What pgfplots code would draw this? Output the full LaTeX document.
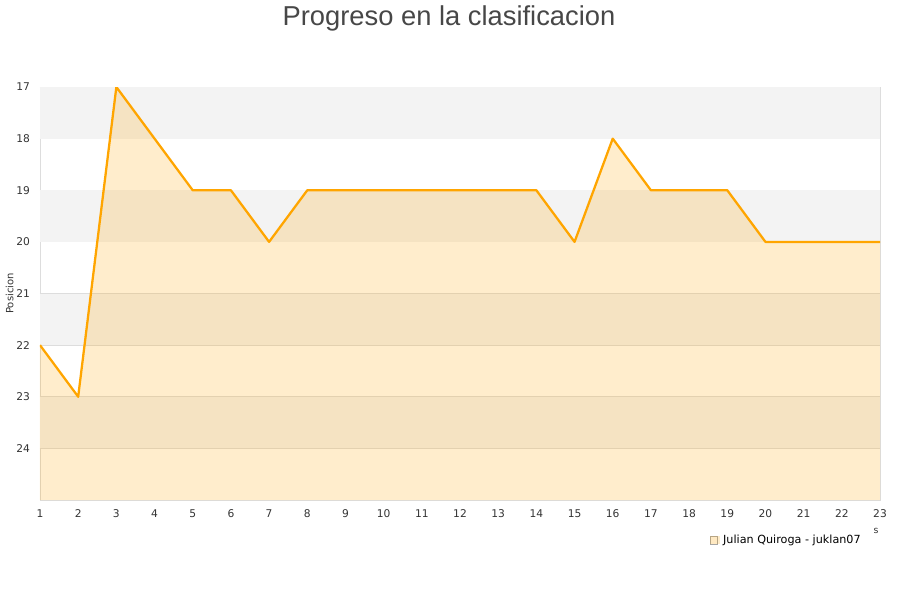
\documentclass[border=0pt]{standalone}
\usepackage{pgfplots}
\pgfplotsset{compat=1.18}
\usepackage{fontspec}
\setmainfont{DejaVu Sans}
\newfontfamily\titlefont{Liberation Sans}
\definecolor{lineor}{HTML}{FFA500}
\definecolor{band}{HTML}{F3F3F3}
\definecolor{gridc}{HTML}{DDDDDD}
\definecolor{txt}{HTML}{333333}
\begin{document}
\begin{tikzpicture}
\path[use as bounding box] (0pt,0pt) rectangle (675pt,450pt);
\node[anchor=center,text=txt!90,font=\titlefont\fontsize{20.5}{23}\selectfont] at (336.75pt,436.5pt) {Progreso en la clasificacion};
\begin{axis}[
    at={(30pt,75pt)}, anchor=south west,
    scale only axis,
    width=630pt, height=309.75pt,
    xmin=1, xmax=23,
    ymin=17, ymax=25,
    y dir=reverse,
    xtick={1,...,23},
    ytick={17,...,24},
    major tick length=0pt,
    axis line style={gridc},
    ymajorgrids,
    grid style={gridc, line width=0.6pt},
    tick label style={font=\fontsize{8}{9}\selectfont, text=txt},
    /pgf/number format/assume math mode=true,
    xticklabel style={yshift=-4pt},
    yticklabel style={xshift=-4pt},
    ylabel={Posicion},
    ylabel style={font=\fontsize{7.5}{9}\selectfont, text=txt, anchor=center, at={(axis description cs:-0.036,0.5)}},
    legend style={at={(axis description cs:0.792,-0.097)}, anchor=west, draw=none, fill=none,
        font=\fontsize{8.4}{9}\selectfont},
    legend image code/.code={\draw[gray!70,fill=lineor!25,line width=0.4pt] (0pt,-2.8pt) rectangle (5.6pt,2.8pt);
        \path[use as bounding box] (0pt,-2.8pt) rectangle (8pt,2.8pt);},
]
\fill[band] (axis cs:1,17) rectangle (axis cs:23,18);
\fill[band] (axis cs:1,19) rectangle (axis cs:23,20);
\fill[band] (axis cs:1,21) rectangle (axis cs:23,22);
\fill[band] (axis cs:1,23) rectangle (axis cs:23,24);
\addplot[draw=none, fill=lineor, fill opacity=0.2] coordinates {
    (1,25) (1,22) (2,23) (3,17) (4,18) (5,19) (6,19) (7,20) (8,19) (9,19) (10,19)
    (11,19) (12,19) (13,19) (14,19) (15,20) (16,18) (17,19) (18,19) (19,19)
    (20,20) (21,20) (22,20) (23,20) (23,25) };
\addlegendentry{Julian Quiroga - juklan07}
\addplot[lineor, line width=1.7pt, line join=round, forget plot] coordinates {
    (1,22) (2,23) (3,17) (4,18) (5,19) (6,19) (7,20) (8,19) (9,19) (10,19)
    (11,19) (12,19) (13,19) (14,19) (15,20) (16,18) (17,19) (18,19) (19,19)
    (20,20) (21,20) (22,20) (23,20) };
\end{axis}
\node[font=\fontsize{7}{8}\selectfont, text=txt] at (657pt,51.75pt) {s};
\end{tikzpicture}
\end{document}
